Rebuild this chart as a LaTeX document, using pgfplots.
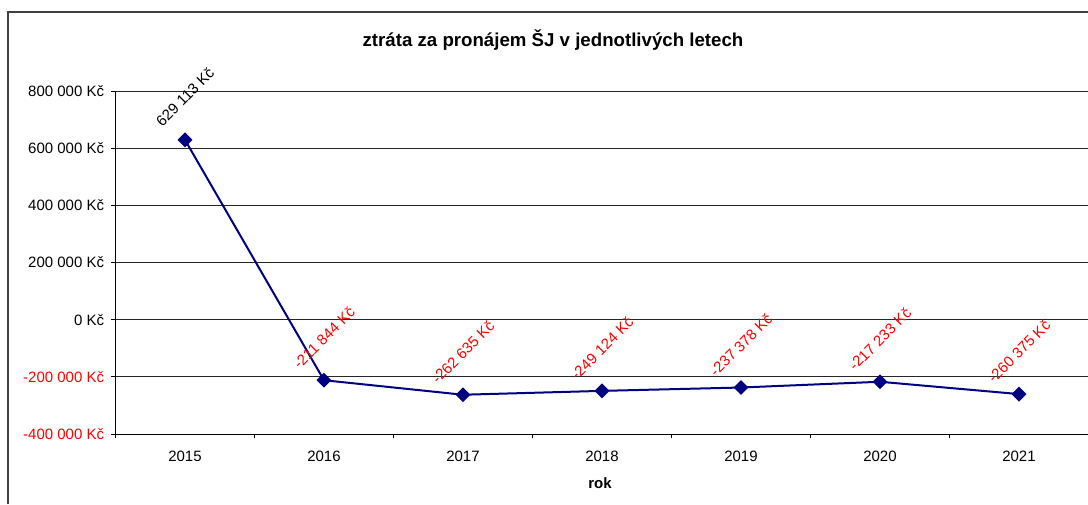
\documentclass[border=0pt]{standalone}
\usepackage{pgfplots}
\pgfplotsset{compat=1.18}
\usepackage{fontspec}
\setmainfont{Liberation Sans}
\definecolor{linenavy}{RGB}{0,0,128}
\definecolor{lblred}{RGB}{255,0,0}
\newcommand{\lblfont}{\fontsize{11.25}{13}\selectfont}

\begin{document}
\begin{tikzpicture}
\useasboundingbox (0,0) rectangle (816pt,378pt);
% chart area border (cut off right and bottom)
\draw[black!75,line width=1.2pt] (6pt,0) -- (6pt,369pt) -- (816pt,369pt);
\node[font=\fontsize{14}{16}\selectfont\bfseries] at (414.75pt,348pt) {ztráta za pronájem ŠJ v jednotlivých letech};
\begin{axis}[at={(86.6pt,52.5pt)},anchor=south west,scale only axis,
  width=729.75pt,height=257.25pt,
  xmin=-0.5,xmax=6.5,ymin=-400000,ymax=800000,
  scaled y ticks=false,
  ytick={-400000,-200000,0,200000,400000,600000,800000},
  yticklabels={{\color{lblred}-400 000 Kč},{\color{lblred}-200 000 Kč},0 Kč,
    200 000 Kč,400 000 Kč,600 000 Kč,800 000 Kč},
  xtick={-0.5,0.5,...,6.5},x tick label as interval,
  xticklabels={2015,2016,2017,2018,2019,2020,2021},
  axis x line*=bottom,axis y line*=left,
  ymajorgrids,grid style={black!85,line width=0.75pt},
  tick align=outside,major tick length=3pt,
  tick style={black,line width=0.75pt},
  axis line style={black,line width=0.75pt},
  tick label style={font=\lblfont},
  yticklabel style={xshift=-2pt},
  xticklabel style={yshift=-6.5pt},
  /pgf/number format/assume math mode=true,
  nodes near coords={\pgfmathfloatgetflagstomacro{\pgfplotspointmeta}{\myflag}%
    \ifnum\myflag=2 \color{lblred}\fi
    \pgfmathprintnumber[fixed,precision=0,1000 sep={\ },assume math mode=true]{\pgfplotspointmeta}\ Kč},
  every node near coord/.append style={font=\lblfont,text=black,anchor=center,
    yshift=32pt,rotate=45},
  clip=false]
\addplot[linenavy,line width=1.5pt,mark=square*,mark size=3.2pt,
  mark options={rotate=45,fill=linenavy,draw=linenavy}] coordinates {
  (0,629113) (1,-211844) (2,-262635) (3,-249124) (4,-237378) (5,-217233) (6,-260375)};
\end{axis}
\node[font=\lblfont\bfseries] at (450pt,15.75pt) {rok};
\end{tikzpicture}
\end{document}
